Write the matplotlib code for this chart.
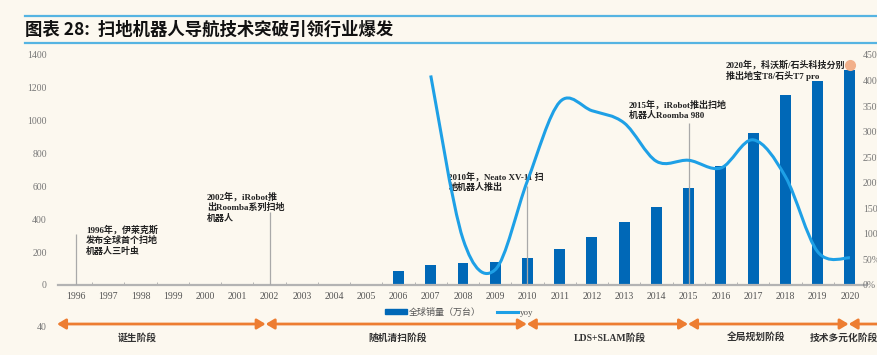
import numpy as np
import matplotlib
matplotlib.use('Agg')
import matplotlib.pyplot as plt
from matplotlib.path import Path
from matplotlib.patches import PathPatch, FancyArrowPatch, Rectangle
from matplotlib.lines import Line2D
import matplotlib.transforms as mtransforms

plt.rcParams['font.family'] = ['Liberation Serif', 'Noto Sans CJK SC', 'DejaVu Sans']

# ---- data ----
years = [str(y) for y in range(1996, 2021)]
sales = [0, 0, 0, 0, 0, 0, 0, 0, 0, 0,
         87, 124, 134, 138, 163, 218, 291, 382, 474, 590, 725, 928, 1159, 1244, 1309]
yoy_years = list(range(2007, 2021))
yoy = [410, 90, 30, 204, 358, 341, 317, 242, 244, 229, 284, 212, 65, 53]

notes = [  # year, leader line top, text x, text top, text
    (1996, 311, 1996.31, 366, '1996年，伊莱克斯\n发布全球首个扫地\n机器人三叶虫'),
    (2002, 445, 2000.06, 567, '2002年，iRobot推\n出Roomba系列扫地\n机器人'),
    (2010, 604, 2007.55, 689, '2010年，Neato XV-11 扫\n地机器人推出'),
    (2015, 988, 2013.15, 1128, '2015年，iRobot推出扫地\n机器人Roomba 980'),
    (2020, None, 2016.15, 1372, '2020年，科沃斯/石头科技分别\n推出地宝T8/石头T7 pro'),
]

stages = ['诞生阶段', '随机清扫阶段', 'LDS+SLAM阶段', '全局规划阶段', '技术多元化阶段']
stage_edges = [1995.41, 2001.88, 2009.98, 2014.98, 2019.96, 2021.2]
stage_text_x = [1997.89, 2005.98, 2012.56, 2017.1, 2019.8]

bar_col = '#0068b7'
line_col = '#1ea0e6'
orange = '#ed7d31'
bg = '#fcf8ef'

fig = plt.figure(figsize=(8.78, 3.55), dpi=100, facecolor=bg)
ax = fig.add_axes([58 / 878, 70 / 355, 809 / 878, 230 / 355])
ax.set_facecolor('none')

x = np.arange(1996, 2021)
ax.bar(x, sales, width=0.34, color=bar_col, zorder=2, label='全球销量（万台）')
ax.set_xlim(1995.44, 2020.53)
ax.set_ylim(0, 1400)
ax.set_yticks(range(0, 1401, 200))
ax.set_xticks(x)
ax.set_xticklabels(years)
ax.set_xticks(np.arange(1996.5, 2020.6, 1), minor=True)
ax.tick_params(axis='x', which='major', length=0, pad=5, labelsize=7, labelcolor='#555555')
ax.tick_params(axis='x', which='minor', length=2.5, direction='in', color='#aaaaaa')
ax.tick_params(axis='y', length=0, pad=8, labelsize=7, labelcolor='#777777')
for s in ['top', 'right', 'left']:
    ax.spines[s].set_visible(False)
ax.spines['bottom'].set_color('#b3b3b3')
ax.spines['bottom'].set_linewidth(1.6)

# orange dot on top of last bar
dot_tr = mtransforms.offset_copy(ax.transData, fig=fig, x=0, y=3.5, units='points')
ax.plot(x[-1], sales[-1], 'o', color='#f2b08a', ms=7, transform=dot_tr, zorder=3, clip_on=False)

# yoy line on right axis, smoothed like excel
ax2 = ax.twinx()
ax2.set_ylim(0, 450)
ax2.set_yticks(range(0, 451, 50))
ax2.set_yticklabels([f'{v}%' for v in range(0, 451, 50)])
ax2.tick_params(axis='y', length=0, pad=-3, labelsize=7, labelcolor='#777777')
for s in ax2.spines.values():
    s.set_visible(False)

P = np.column_stack([np.array(yoy_years, dtype=float), np.array(yoy, dtype=float)])
verts = [P[0]]
codes = [Path.MOVETO]
n = len(P)
for i in range(n - 1):
    p_prev = P[i - 1] if i > 0 else P[i]
    p_next2 = P[i + 2] if i + 2 < n else P[i + 1]
    c1 = P[i] + (P[i + 1] - p_prev) / 6
    c2 = P[i + 1] - (p_next2 - P[i]) / 6
    verts += [c1, c2, P[i + 1]]
    codes += [Path.CURVE4] * 3
ax2.add_patch(PathPatch(Path(verts, codes), fill=False, edgecolor=line_col, lw=2.2, zorder=4))

# annotations
for yr, top, tx, ty, txt in notes:
    if top is not None:
        ax.vlines(yr, 0, top, color='#a9a9a9', lw=0.9, zorder=5)
    ax.text(tx, ty, txt, fontsize=6.5, fontweight='bold', va='top', ha='left',
            linespacing=1.25, color='#222222', zorder=6)

# legend
handles = [Rectangle((0, 0), 1, 1, color=bar_col), Line2D([], [], color=line_col, lw=2.2)]
fig.legend(handles, ['全球销量（万台）', 'yoy'], loc='center', bbox_to_anchor=(0.523, 0.121),
           ncol=2, frameon=False, fontsize=6.5, handlelength=2.4, handleheight=0.45,
           columnspacing=1.8, handletextpad=0.2, labelcolor='#555555')

# stage arrows
trans = mtransforms.blended_transform_factory(ax.transData, fig.transFigure)
for i, name in enumerate(stages):
    arr = FancyArrowPatch((stage_edges[i], 0.0873), (stage_edges[i + 1], 0.0873),
                          transform=trans, arrowstyle='<|-|>,head_length=5,head_width=3',
                          color=orange, lw=2, shrinkA=0, shrinkB=0, clip_on=False)
    fig.add_artist(arr)
    fig.text(stage_text_x[i], 0.048, name, transform=trans, ha='center', va='center',
             fontsize=7, fontweight='bold', color='#333333')

fig.text(42 / 878, 1 - 328 / 355, '40', fontsize=7, color='#777777', ha='center', va='center')

# title and rules
fig.add_artist(Line2D([25 / 878, 1], [1 - 16 / 355] * 2, color='#55b4e2', lw=1.6))
fig.add_artist(Line2D([25 / 878, 1], [1 - 43 / 355] * 2, color='#55b4e2', lw=1.6))
fig.text(25 / 878, 1 - 30 / 355, '图表 28:  扫地机器人导航技术突破引领行业爆发',
         family=['Noto Sans CJK SC', 'DejaVu Sans'], fontsize=12.5, fontweight='bold',
         va='center', ha='left', color='#111111')

fig.savefig('out.png', dpi=100, facecolor=bg)
